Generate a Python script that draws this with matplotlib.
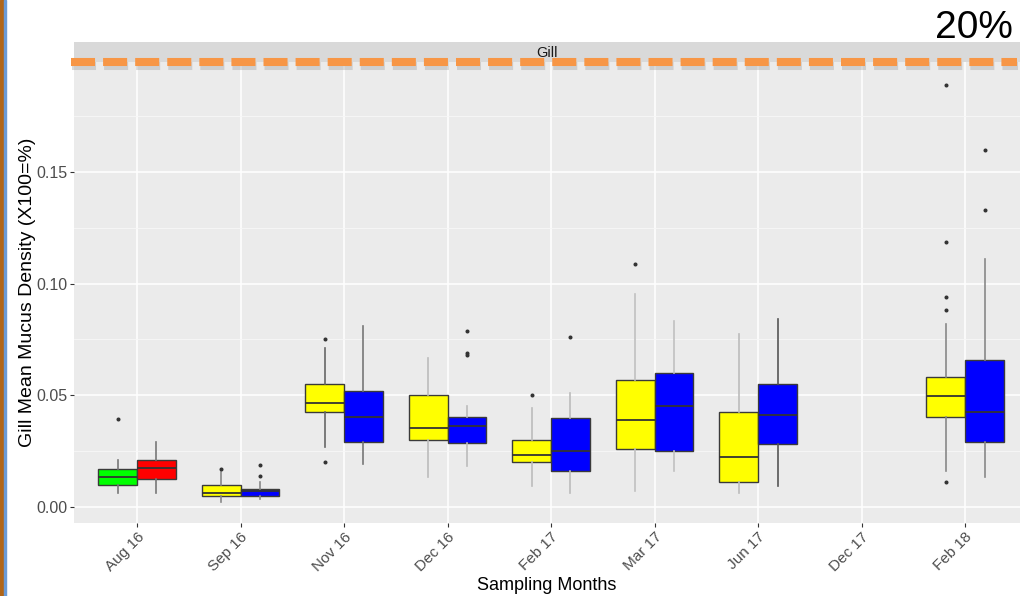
import numpy as np
import matplotlib.pyplot as plt
from matplotlib import patheffects as pe
from matplotlib.lines import Line2D
from matplotlib.patches import Rectangle

plt.rcParams['font.family'] = ['Liberation Sans', 'DejaVu Sans']
plt.rcParams['lines.scale_dashes'] = False


# -----------------------------
# data
# -----------------------------
months = ["Aug 16", "Sep 16", "Nov 16", "Dec 16", "Feb 17",
          "Mar 17", "Jun 17", "Dec 17", "Feb 18"]

# left box of each month (green in Aug 16, yellow afterwards)
a_lo  = [0.0061, 0.0024, 0.0270, 0.0133, 0.0094, 0.0073, 0.0064, np.nan, 0.0163]
a_q1  = [0.0099, 0.0049, 0.0424, 0.0300, 0.0201, 0.0258, 0.0113, np.nan, 0.0404]
a_med = [0.0134, 0.0064, 0.0464, 0.0352, 0.0233, 0.0388, 0.0222, np.nan, 0.0498]
a_q3  = [0.0170, 0.0099, 0.0549, 0.0501, 0.0299, 0.0567, 0.0427, np.nan, 0.0582]
a_hi  = [0.0210, 0.0158, 0.0710, 0.0668, 0.0442, 0.0952, 0.0773, np.nan, 0.0819]
a_out = [[0.0393], [0.0171], [0.0752, 0.0203], [], [0.0501], [0.1090], [], [],
         [0.1889, 0.1188, 0.0941, 0.0882, 0.0111]]

# right box of each month (red in Aug 16, blue afterwards)
b_lo  = [0.0061, 0.0034, 0.0191, 0.0184, 0.0064, 0.0161, 0.0094, np.nan, 0.0133]
b_q1  = [0.0127, 0.0051, 0.0290, 0.0288, 0.0160, 0.0251, 0.0282, np.nan, 0.0290]
b_med = [0.0175, 0.0072, 0.0401, 0.0363, 0.0252, 0.0452, 0.0413, np.nan, 0.0424]
b_q3  = [0.0209, 0.0079, 0.0519, 0.0404, 0.0397, 0.0600, 0.0551, np.nan, 0.0659]
b_hi  = [0.0290, 0.0111, 0.0810, 0.0452, 0.0509, 0.0833, 0.0840, np.nan, 0.1109]
b_out = [[], [0.0189, 0.0140], [], [0.0789, 0.0691, 0.0680], [0.0760], [], [], [],
         [0.1598, 0.1328]]

# styling
a_fill = ["#00FF00"] + ["#FFFF00"] * 8
b_fill = ["#FF0000"] + ["#0000FF"] * 8
a_whisk = ["#777777", "#888888", "#666666", "#BBBBBB", "#BBBBBB", "#C0C0C0", "#BBBBBB", "#888888", "#888888"]
b_whisk = ["#777777", "#888888", "#777777", "#BBBBBB", "#BBBBBB", "#C0C0C0", "#555555", "#888888", "#888888"]


def make_stats(lo, q1, med, q3, hi, out):
    stats, keep = [], []
    for i in range(len(lo)):
        if np.isnan(med[i]):
            continue
        stats.append(dict(whislo=lo[i], q1=q1[i], med=med[i], q3=q3[i],
                          whishi=hi[i], fliers=np.array(out[i])))
        keep.append(i)
    return stats, keep


W, H = 1021, 596
fig = plt.figure(figsize=(W / 100, H / 100), dpi=100)

# panel: pixel box x 74..1020, y 62..523
ax = fig.add_axes([74 / W, 1 - 523 / H, (1020 - 74) / W, (523 - 62) / H])
ax.set_facecolor("#EBEBEB")
for s in ax.spines.values():
    s.set_visible(False)

x = np.arange(len(months))
bw = 0.375
for lo, q1, med, q3, hi, out, fills, whisk, off in [
        (a_lo, a_q1, a_med, a_q3, a_hi, a_out, a_fill, a_whisk, -bw / 2),
        (b_lo, b_q1, b_med, b_q3, b_hi, b_out, b_fill, b_whisk, bw / 2)]:
    stats, keep = make_stats(lo, q1, med, q3, hi, out)
    art = ax.bxp(stats, positions=x[keep] + off, widths=bw, patch_artist=True,
                 showcaps=False,
                 boxprops=dict(edgecolor="#3a3a3a", linewidth=1.0),
                 medianprops=dict(color="#333333", linewidth=1.3),
                 whiskerprops=dict(linewidth=1.2),
                 flierprops=dict(marker="o", markersize=1.9, markerfacecolor="#333333",
                                 markeredgecolor="#333333"),
                 zorder=3)
    for j, i in enumerate(keep):
        art["boxes"][j].set_facecolor(fills[i])
        art["whiskers"][2 * j].set_color(whisk[i])
        art["whiskers"][2 * j + 1].set_color(whisk[i])

ax.set_xlim(-0.609, 8.53)
ax.set_ylim(-0.00716, 0.1992)
ax.set_xticks(x)
ax.set_xticklabels(months, rotation=45, ha="right", rotation_mode="anchor",
                   fontsize=11, color="#4D4D4D")
ax.set_yticks([0, 0.05, 0.10, 0.15])
ax.set_yticklabels(["0.00", "0.05", "0.10", "0.15"], fontsize=11.5, color="#4D4D4D")
ax.set_yticks([0.025, 0.075, 0.125, 0.175], minor=True)
ax.tick_params(axis="both", which="major", length=3, width=0.8, color="#333333", pad=2)
ax.tick_params(axis="y", which="minor", length=0)
ax.grid(True, which="major", color="white", linewidth=1.1, zorder=0)
ax.grid(True, which="minor", axis="y", color="#F7F7F7", linewidth=0.6, zorder=0)
ax.set_axisbelow(True)

ax.set_xlabel("Sampling Months", fontsize=13, labelpad=2)
ax.set_ylabel("Gill Mean Mucus Density (X100=%)", fontsize=14, labelpad=0)

# facet strip
strip = fig.add_axes([74 / W, 1 - 62 / H, (1020 - 74) / W, 20 / H])
strip.set_facecolor("#D9D9D9")
strip.set_xticks([])
strip.set_yticks([])
for s in strip.spines.values():
    s.set_visible(False)
strip.text(0.5, 0.45, "Gill", ha="center", va="center", fontsize=10.5, color="#1A1A1A")

# orange dashed line drawn over the slide
yline = 1 - 62 / H
dash = Line2D([71 / W, 1017 / W], [yline, yline], transform=fig.transFigure,
              color="#F79646", linewidth=5.8, solid_capstyle="butt", dash_capstyle="butt",
              dashes=(17.3, 5.8), zorder=10)
dash.set_path_effects([pe.SimpleLineShadow(offset=(0.5, -3), shadow_color="#999999", alpha=0.35),
                       pe.Normal()])
fig.add_artist(dash)

fig.text(1013 / W, 1 - 28 / H, "20%", ha="right", va="center", fontsize=28, color="black")

# slide edge on the left
fig.add_artist(Rectangle((0, 0), 4 / W, 1, transform=fig.transFigure,
                         color="#B0661A", zorder=10))
fig.add_artist(Rectangle((4 / W, 0), 2 / W, 1, transform=fig.transFigure,
                         color="#6A9BD8", zorder=10))

fig.savefig("out.png", dpi=100)
